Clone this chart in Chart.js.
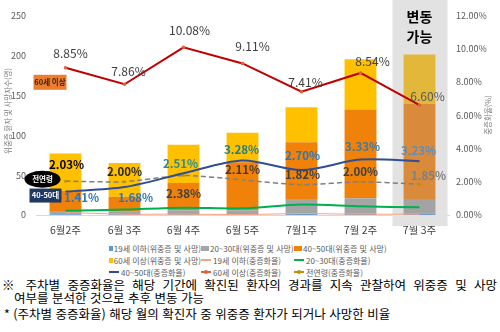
<!DOCTYPE html>
<html lang="ko">
<head>
<meta charset="UTF-8">
<title>주차별 위중증 환자 및 중증화율</title>
<script src="https://cdn.jsdelivr.net/npm/chart.js"></script>
<style>
  body { margin: 0; width: 500px; height: 332px; background: #fff; position: relative; overflow: hidden;
         font-family: "Noto Sans CJK KR", "Noto Sans", sans-serif; }
  #chartBox { position: absolute; left: 0; top: 0; width: 500px; height: 240px; }
  #legend { position: absolute; left: 109px; top: 242px; display: grid;
            grid-template-columns: 92px 93px 110px; grid-auto-rows: 12px; font-size: 8px; color: #595959; }
  .item { display: flex; align-items: center; white-space: nowrap; }
  .sw { display: inline-block; width: 8px; height: 5px; margin-right: 1px; }
  .ln { display: inline-block; width: 10px; height: 2px; margin-right: 2px; position: relative; }
  .ln i { position: absolute; left: 3px; top: -1.5px; width: 4px; height: 4px; border-radius: 50%; }
  .note { position: absolute; font-size: 12.5px; line-height: 14px; color: #000; }
</style>
</head>
<body>
<div id="chartBox"><canvas id="weekChart"></canvas></div>
<div id="legend"></div>
<div class="note" style="left:2px; top:278px; width:495px; text-align:justify; text-align-last:justify;">※ 주차별 중증화율은 해당 기간에 확진된 환자의 경과를 지속 관찰하여 위중증 및 사망</div>
<div class="note" style="left:14px; top:291px; white-space:nowrap;">여부를 분석한 것으로 추후 변동 가능</div>
<div class="note" style="left:4px; top:307px; white-space:nowrap;">* (주차별 중증화율) 해당 월의 확진자 중 위중증 환자가 되거나 사망한 비율</div>

<script>
// 주차
const weeks = ['6월2주', '6월 3주', '6월 4주', '6월 5주', '7월1주', '7월 2주', '7월 3주'];

// 위중증 및 사망 (명) - 누적 막대
const severe19 = [1, 1, 1, 1, 2, 2, 2];
const severe2030 = [4, 3, 5, 5, 18, 19, 18];
const severe4050 = [25, 19, 34, 60, 71, 111, 119];
const severe60 = [47, 42, 48, 37, 44, 63, 62];

// 중증화율 (%)
const rate19 = [0.15, 0.05, 0.05, 0.03, 0.08, 0.05, 0.05];
const rate2030 = [0.25, 0.33, 0.44, 0.40, 0.63, 0.52, 0.46];
const rate4050 = [1.41, 1.68, 2.51, 3.28, 2.70, 3.33, 3.23];
const rate60 = [8.85, 7.86, 10.08, 9.11, 7.41, 8.54, 6.60];
const rateAll = [2.03, 2.00, 2.38, 2.11, 1.82, 2.00, 1.85];

// 축 눈금
const countTicks = [0, 50, 100, 150, 200, 250];
const rateTicks = [0, 2, 4, 6, 8, 10, 12];

const FONT = '"Noto Sans CJK KR", "Noto Sans", sans-serif';
const last = weeks.length - 1;

// 마지막 주(변동 가능)는 회색 배경 때문에 색이 조금 흐림
function barColors(base, shaded) {
    return weeks.map((w, i) => i === last ? shaded : base);
}

// 데이터 라벨 위치 (점 기준 offset)
const off60 = [[5, -14], [4, -13], [6, -17], [10, -17], [4, -9], [12, -12], [8, -9]];
const col60 = ['#404040', '#404040', '#404040', '#404040', '#404040', '#404040', '#595959'];
const off4050 = [[16, 6], [11, 11], [-3, -10], [-1, -11], [1, -14], [2, -13], [-1, -11]];
const col4050 = ['#2E75B6', '#2E75B6', '#2A8C8C', '#1F8080', '#2E75B6', '#3C78A8', '#5B8DC0'];
const offAll = [[1, -17], [0, -10], [0, 18], [0, -10], [1, -10], [0, -10], [9, -9]];
const colAll = ['#000000', '#262626', '#404040', '#4a3520', '#404040', '#404040', '#7F7F7F'];

function drawLabels(ctx, meta, values, offs, colors, font) {
    ctx.font = font;
    ctx.textAlign = 'center';
    ctx.textBaseline = 'middle';
    meta.data.forEach((pt, i) => {
        ctx.fillStyle = colors[i];
        ctx.fillText(values[i].toFixed(2) + '%', pt.x + offs[i][0], pt.y + offs[i][1]);
    });
}

const decor = {
    id: 'decor',
    beforeDatasetsDraw(chart) {
        const { ctx, scales: { x }, chartArea } = chart;
        const cx = x.getPixelForValue(last);
        ctx.save();
        ctx.fillStyle = '#e2e2e2';
        ctx.fillRect(cx - 27, 0, 55, chartArea.bottom + 11);
        ctx.restore();
    },
    afterDatasetsDraw(chart) {
        const { ctx, scales: { x } } = chart;
        ctx.save();

        drawLabels(ctx, chart.getDatasetMeta(7), rate60, off60, col60, '12px ' + FONT);
        drawLabels(ctx, chart.getDatasetMeta(6), rate4050, off4050, col4050, 'bold 11.5px ' + FONT);
        drawLabels(ctx, chart.getDatasetMeta(8), rateAll, offAll, colAll, 'bold 11.5px ' + FONT);

        // 변동 가능
        const cx = x.getPixelForValue(last);
        ctx.fillStyle = '#000';
        ctx.font = 'bold 14px ' + FONT;
        ctx.textAlign = 'center';
        ctx.textBaseline = 'middle';
        ctx.fillText('변동', cx, 17);
        ctx.fillText('가능', cx, 37);

        // 시리즈 이름표
        const p60 = chart.getDatasetMeta(7).data[0];
        const pAll = chart.getDatasetMeta(8).data[0];
        const p4050 = chart.getDatasetMeta(6).data[0];

        ctx.font = 'bold 7.5px ' + FONT;
        ctx.fillStyle = '#ED7D31';
        ctx.fillRect(p60.x - 32, p60.y + 7, 33, 15);
        ctx.fillStyle = '#3a1c00';
        ctx.fillText('60세 이상', p60.x - 15.5, p60.y + 14.5);

        ctx.fillStyle = '#000';
        ctx.beginPath();
        ctx.ellipse(pAll.x - 23, pAll.y - 2, 18, 8.5, 0, 0, Math.PI * 2);
        ctx.fill();
        ctx.fillStyle = '#fff';
        ctx.fillText('전연령', pAll.x - 23, pAll.y - 2);

        ctx.fillStyle = '#203864';
        ctx.fillRect(p4050.x - 36, p4050.y - 3, 32, 14);
        ctx.fillStyle = '#fff';
        ctx.fillText('40-50대', p4050.x - 20, p4050.y + 4);

        // 축 제목
        ctx.fillStyle = '#7F7F7F';
        ctx.font = '7.5px ' + FONT;
        ctx.translate(8, 111);
        ctx.rotate(-Math.PI / 2);
        ctx.fillText('위중증 환자 및 사망자수(명)', 0, 0);
        ctx.setTransform(1, 0, 0, 1, 0, 0);
        ctx.translate(488, 115);
        ctx.rotate(-Math.PI / 2);
        ctx.fillText('중증화율(%)', 0, 0);
        ctx.restore();
    }
};

const ctx = document.getElementById('weekChart').getContext('2d');
const weekChart = new Chart(ctx, {
    type: 'bar',
    data: {
        labels: weeks,
        datasets: [
            { label: '19세 이하(위중증 및 사망)', data: severe19, backgroundColor: barColors('#5B9BD5', '#6f9ccc'), order: 1, yAxisID: 'y' },
            { label: '20~30대(위중증 및 사망)', data: severe2030, backgroundColor: barColors('#A5A5A5', '#a3a3a3'), order: 1, yAxisID: 'y' },
            { label: '40~50대(위중증 및 사망)', data: severe4050, backgroundColor: barColors('#F08209', '#D98B3B'), order: 1, yAxisID: 'y' },
            { label: '60세 이상(위중증 및 사망)', data: severe60, backgroundColor: barColors('#FFC000', '#E3B83A'), order: 1, yAxisID: 'y' },
            { type: 'line', label: '19세 이하(중증화율)', data: rate19, borderColor: '#F4A582', borderWidth: 1, pointRadius: 0, tension: 0.3, order: 0, yAxisID: 'y1' },
            { type: 'line', label: '20~30대(중증화율)', data: rate2030, borderColor: '#00B050', borderWidth: 2, pointRadius: 0, tension: 0.3, order: 0, yAxisID: 'y1' },
            { type: 'line', label: '40~50대(중증화율)', data: rate4050, borderColor: '#2F4E96', borderWidth: 2, pointRadius: 0, tension: 0.3, order: 0, yAxisID: 'y1' },
            { type: 'line', label: '60세 이상(중증화율)', data: rate60, borderColor: '#C00000', borderWidth: 2, pointRadius: 1.8, pointBackgroundColor: '#E06040', pointBorderWidth: 0, tension: 0, order: 0, yAxisID: 'y1' },
            { type: 'line', label: '전연령(중증화율)', data: rateAll, borderColor: '#7F7F7F', borderWidth: 1.5, borderDash: [5, 3], pointRadius: 1.5, pointBackgroundColor: '#BF9000', pointBorderWidth: 0, tension: 0.2, order: 0, yAxisID: 'y1' }
        ]
    },
    options: {
        responsive: true,
        maintainAspectRatio: false,
        animation: false,
        layout: { padding: { top: 7, left: 0, right: 0, bottom: 0 } },
        plugins: { legend: { display: false }, tooltip: { enabled: false } },
        datasets: { bar: { categoryPercentage: 1, barPercentage: 0.54 } },
        scales: {
            x: {
                stacked: true,
                grid: { display: false, drawTicks: false },
                border: { color: '#d9d9d9' },
                ticks: { padding: 9, color: '#404040', font: { size: 10.5, family: FONT } },
                afterFit(s) { s.height = 25; }
            },
            y: {
                stacked: true,
                position: 'left',
                min: countTicks[0],
                max: countTicks[countTicks.length - 1],
                afterBuildTicks(s) { s.ticks = countTicks.map(v => ({ value: v })); },
                grid: { display: false, drawTicks: false },
                border: { display: false },
                ticks: { padding: 10, color: '#595959', font: { size: 9, family: FONT } },
                afterFit(s) { s.width = 36; }
            },
            y1: {
                position: 'right',
                min: rateTicks[0],
                max: rateTicks[rateTicks.length - 1],
                afterBuildTicks(s) { s.ticks = rateTicks.map(v => ({ value: v })); },
                grid: { display: false, drawTicks: false },
                border: { display: false },
                ticks: { padding: 7, color: '#595959', font: { size: 9, family: FONT }, callback: v => v.toFixed(2) + '%' },
                afterFit(s) { s.width = 51; }
            }
        }
    },
    plugins: [decor]
});

// 범례 (엑셀처럼 3열)
const legendBox = document.getElementById('legend');
weekChart.data.datasets.forEach(ds => {
    const item = document.createElement('div');
    item.className = 'item';
    const mark = document.createElement('span');
    if (ds.type === 'line') {
        mark.className = 'ln';
        mark.style.background = ds.pointRadius ? ds.pointBackgroundColor : ds.borderColor;
        if (ds.pointRadius) {
            const dot = document.createElement('i');
            dot.style.background = ds.pointBackgroundColor;
            mark.appendChild(dot);
        }
    } else {
        mark.className = 'sw';
        mark.style.background = ds.backgroundColor[0];
    }
    item.appendChild(mark);
    item.appendChild(document.createTextNode(ds.label));
    legendBox.appendChild(item);
});
</script>
</body>
</html>
